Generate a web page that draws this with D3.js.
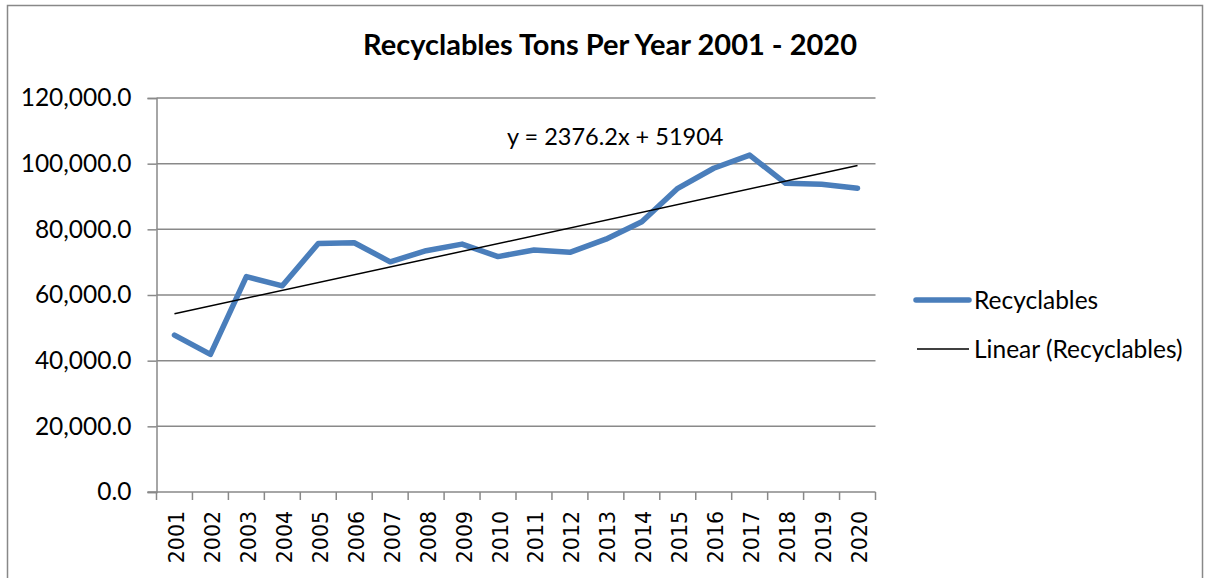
<!DOCTYPE html>
<html>
<head>
<meta charset="utf-8">
<script src="https://cdn.jsdelivr.net/npm/d3@7"></script>
<style>
  html, body { margin: 0; padding: 0; background: #fff; }
  svg { display: block; }
</style>
</head>
<body>
<svg id="chart" width="1207" height="578"></svg>
<script>
const years = ["2001","2002","2003","2004","2005","2006","2007","2008","2009","2010",
               "2011","2012","2013","2014","2015","2016","2017","2018","2019","2020"];
const recyclables = [47800, 41900, 65600, 62800, 75700, 75900, 70100, 73500, 75500, 71700,
                     73700, 73000, 77000, 82300, 92500, 98600, 102600, 94000, 93700, 92500];
const yTicks = [0, 20000, 40000, 60000, 80000, 100000, 120000];
const trendSlope = 2376.2;
const trendIntercept = 51904;
const title = "Recyclables Tons Per Year 2001 - 2020";
const equationLabel = "y = 2376.2x + 51904";
const legendLabels = ["Recyclables", "Linear (Recyclables)"];

const svg = d3.select("#chart");
const m = { left: 156.5, right: 875.5, top: 98, bottom: 492 };
const gridColor = "#898989";
const lineColor = "#4a7ebb";
const font = "Lato, 'Open Sans', sans-serif";

// outer frame
svg.append("rect").attr("x", 7.5).attr("y", 5.5).attr("width", 1195).attr("height", 600)
  .attr("fill", "none").attr("stroke", "#888").attr("stroke-width", 1.5);

const x = d3.scaleBand().domain(years).range([m.left, m.right]).padding(0);
const y = d3.scaleLinear().domain([0, 120000]).range([m.bottom, m.top]);

// gridlines
svg.append("g").selectAll("line").data(yTicks.filter(d => d > 0)).join("line")
  .attr("x1", m.left).attr("x2", m.right)
  .attr("y1", d => y(d)).attr("y2", d => y(d))
  .attr("stroke", gridColor).attr("stroke-width", 1.5);

// y axis
const yAxis = d3.axisLeft(y).tickValues(yTicks).tickSize(9).tickPadding(16)
  .tickFormat(d => d3.format(",.1f")(d));
const gy = svg.append("g").attr("transform", `translate(${m.left},0)`).call(yAxis);
gy.select(".domain").attr("stroke", gridColor).attr("stroke-width", 1.5);
gy.selectAll(".tick line").attr("stroke", gridColor).attr("stroke-width", 1.5);
gy.selectAll(".tick text").attr("font-family", font).attr("font-size", 24.5).attr("fill", "#000");

// x axis
const gx = svg.append("g").attr("transform", `translate(0,${m.bottom})`);
gx.append("line").attr("x1", m.left - 9).attr("x2", m.right).attr("y1", 0).attr("y2", 0)
  .attr("stroke", gridColor).attr("stroke-width", 1.5);
const boundaries = years.map(d => x(d)).concat([x(years[years.length - 1]) + x.bandwidth()]);
gx.selectAll("line.tk").data(boundaries).join("line").attr("class", "tk")
  .attr("x1", d => d).attr("x2", d => d).attr("y1", 0).attr("y2", 8)
  .attr("stroke", gridColor).attr("stroke-width", 1.5);
gx.selectAll("text").data(years).join("text")
  .attr("transform", d => `translate(${x(d) + x.bandwidth() / 2 + 9.5},19) rotate(-90)`)
  .attr("text-anchor", "end")
  .attr("font-family", "'DejaVu Sans', sans-serif").attr("font-size", 20.5)
  .attr("fill", "#000").text(d => d);

// data line
const line = d3.line().x((d, i) => x(years[i]) + x.bandwidth() / 2).y(d => y(d));
svg.append("path").datum(recyclables).attr("d", line)
  .attr("fill", "none").attr("stroke", lineColor).attr("stroke-width", 5.5)
  .attr("stroke-linejoin", "round").attr("stroke-linecap", "round");

// trend line
const tEnds = [1, years.length];
svg.append("line")
  .attr("x1", x(years[0]) + x.bandwidth() / 2).attr("y1", y(trendIntercept + trendSlope * tEnds[0]))
  .attr("x2", x(years[years.length - 1]) + x.bandwidth() / 2).attr("y2", y(trendIntercept + trendSlope * tEnds[1]))
  .attr("stroke", "#000").attr("stroke-width", 1.5);

// equation
svg.append("text").attr("x", 507).attr("y", 145).attr("font-family", font).attr("font-size", 23.5)
  .attr("fill", "#000").text(equationLabel);

// title
svg.append("text").attr("x", 610).attr("y", 55).attr("text-anchor", "middle")
  .attr("font-family", font).attr("font-size", 29).attr("font-weight", "bold")
  .attr("fill", "#000").text(title);

// legend
const lg = svg.append("g");
lg.append("line").attr("x1", 916).attr("x2", 969).attr("y1", 300).attr("y2", 300)
  .attr("stroke", lineColor).attr("stroke-width", 5.5).attr("stroke-linecap", "round");
lg.append("text").attr("x", 974).attr("y", 309).attr("font-family", font).attr("font-size", 24.5)
  .attr("fill", "#000").text(legendLabels[0]);
lg.append("line").attr("x1", 917).attr("x2", 969).attr("y1", 349).attr("y2", 349)
  .attr("stroke", "#000").attr("stroke-width", 1.5);
lg.append("text").attr("x", 974).attr("y", 358).attr("font-family", font).attr("font-size", 24.5)
  .attr("fill", "#000").text(legendLabels[1]);
</script>
</body>
</html>
